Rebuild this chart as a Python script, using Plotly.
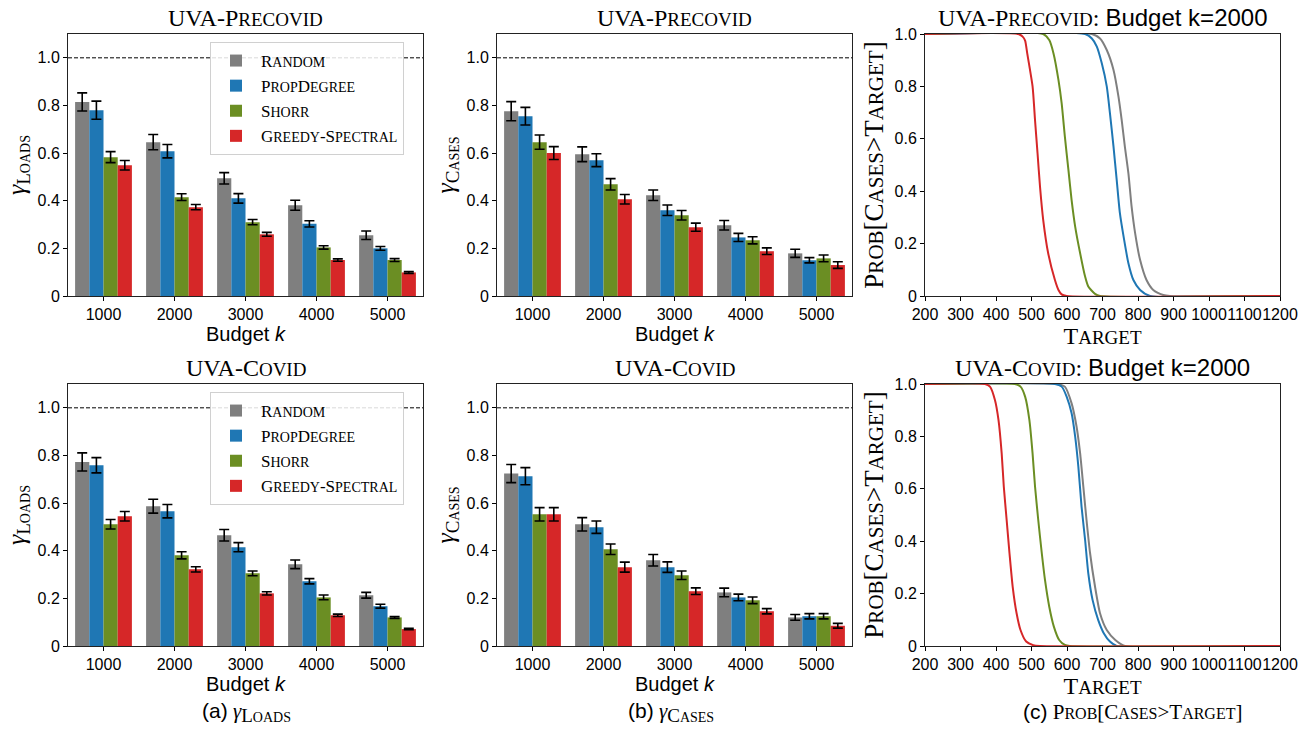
import plotly.graph_objects as go

# ---------------- data ----------------
budgets = ["1000", "2000", "3000", "4000", "5000"]
methods = ["Random", "PropDegree", "Shorr", "Greedy-Spectral"]
colors = ["#7f7f7f", "#1f77b4", "#6b8e23", "#d62728"]

# UVA-Precovid, gamma_Loads
pre_loads_random = [0.815, 0.646, 0.494, 0.381, 0.255]
pre_loads_random_err = [0.038, 0.032, 0.024, 0.021, 0.018]
pre_loads_prop = [0.780, 0.608, 0.410, 0.303, 0.200]
pre_loads_prop_err = [0.038, 0.028, 0.020, 0.013, 0.008]
pre_loads_shorr = [0.583, 0.415, 0.310, 0.204, 0.151]
pre_loads_shorr_err = [0.023, 0.014, 0.011, 0.007, 0.006]
pre_loads_greedy = [0.549, 0.373, 0.259, 0.151, 0.099]
pre_loads_greedy_err = [0.020, 0.011, 0.008, 0.005, 0.004]

# UVA-Precovid, gamma_Cases
pre_cases_random = [0.776, 0.595, 0.423, 0.297, 0.179]
pre_cases_random_err = [0.040, 0.031, 0.022, 0.020, 0.017]
pre_cases_prop = [0.755, 0.570, 0.360, 0.246, 0.150]
pre_cases_prop_err = [0.037, 0.027, 0.022, 0.017, 0.011]
pre_cases_shorr = [0.646, 0.469, 0.339, 0.234, 0.158]
pre_cases_shorr_err = [0.030, 0.024, 0.020, 0.015, 0.014]
pre_cases_greedy = [0.600, 0.406, 0.289, 0.188, 0.130]
pre_cases_greedy_err = [0.027, 0.020, 0.017, 0.014, 0.014]

# UVA-Covid, gamma_Loads
cov_loads_random = [0.773, 0.587, 0.465, 0.343, 0.213]
cov_loads_random_err = [0.038, 0.029, 0.024, 0.018, 0.012]
cov_loads_prop = [0.759, 0.566, 0.415, 0.272, 0.167]
cov_loads_prop_err = [0.032, 0.028, 0.019, 0.011, 0.008]
cov_loads_shorr = [0.511, 0.381, 0.305, 0.204, 0.120]
cov_loads_shorr_err = [0.020, 0.015, 0.010, 0.010, 0.004]
cov_loads_greedy = [0.545, 0.322, 0.221, 0.129, 0.071]
cov_loads_greedy_err = [0.020, 0.011, 0.007, 0.005, 0.003]

# UVA-Covid, gamma_Cases
cov_cases_random = [0.724, 0.511, 0.360, 0.225, 0.120]
cov_cases_random_err = [0.038, 0.028, 0.024, 0.018, 0.012]
cov_cases_prop = [0.713, 0.499, 0.331, 0.204, 0.125]
cov_cases_prop_err = [0.036, 0.026, 0.022, 0.014, 0.011]
cov_cases_shorr = [0.553, 0.406, 0.297, 0.192, 0.125]
cov_cases_shorr_err = [0.028, 0.022, 0.018, 0.014, 0.011]
cov_cases_greedy = [0.553, 0.331, 0.230, 0.146, 0.085]
cov_cases_greedy_err = [0.028, 0.021, 0.014, 0.011, 0.010]

# Prob[Cases > Target], UVA-Precovid, k=2000
pre_random_x = [200, 670, 693, 712, 731, 745, 754, 763, 773, 782, 792, 806, 824, 843, 871, 890, 1200]
pre_random_p = [1, 1, 0.983, 0.939, 0.863, 0.761, 0.672, 0.57, 0.468, 0.341, 0.239, 0.137, 0.061, 0.023, 0.004, 0, 0]
pre_prop_x = [200, 651, 670, 684, 698, 712, 721, 731, 740, 749, 761, 773, 787, 806, 834, 1200]
pre_prop_p = [1, 1, 0.983, 0.952, 0.888, 0.80, 0.697, 0.57, 0.443, 0.316, 0.214, 0.125, 0.061, 0.023, 0, 0]
pre_shorr_x = [200, 533, 550, 562, 576, 585, 594, 604, 613, 623, 637, 651, 660, 679, 693, 1200]
pre_shorr_p = [1, 1, 0.977, 0.926, 0.824, 0.735, 0.608, 0.481, 0.366, 0.265, 0.163, 0.074, 0.036, 0.008, 0, 0]
pre_greedy_x = [200, 463, 475, 482, 488, 503, 510, 517, 524, 533, 547, 566, 576, 585, 599, 1200]
pre_greedy_p = [1, 1, 0.99, 0.975, 0.926, 0.80, 0.67, 0.545, 0.417, 0.29, 0.163, 0.061, 0.023, 0.006, 0, 0]

# Prob[Cases > Target], UVA-Covid, k=2000
cov_random_x = [200, 571, 594, 613, 627, 637, 646, 655, 665, 679, 693, 712, 736, 763, 1200]
cov_random_p = [1, 1, 0.99, 0.926, 0.837, 0.735, 0.608, 0.481, 0.354, 0.226, 0.125, 0.061, 0.023, 0, 0]
cov_prop_x = [200, 566, 585, 599, 613, 623, 632, 641, 651, 660, 672, 688, 704, 721, 740, 1200]
cov_prop_p = [1, 1, 0.99, 0.952, 0.888, 0.799, 0.684, 0.532, 0.405, 0.277, 0.176, 0.099, 0.048, 0.017, 0, 0]
cov_shorr_x = [200, 453, 469, 482, 494, 503, 510, 519, 529, 538, 550, 563, 578, 594, 608, 1200]
cov_shorr_p = [1, 1, 0.99, 0.952, 0.863, 0.735, 0.608, 0.481, 0.354, 0.252, 0.15, 0.074, 0.023, 0.004, 0, 0]
cov_greedy_x = [200, 369, 383, 397, 407, 416, 422, 430, 438, 447, 458, 469, 485, 505, 524, 1200]
cov_greedy_p = [1, 1, 0.99, 0.939, 0.863, 0.735, 0.608, 0.481, 0.354, 0.226, 0.125, 0.061, 0.017, 0.003, 0, 0]

ytick_vals = [0, 0.2, 0.4, 0.6, 0.8, 1.0]
ytick_text = ["0", "0.2", "0.4", "0.6", "0.8", "1.0"]
target_ticks = [200, 300, 400, 500, 600, 700, 800, 900, 1000, 1100, 1200]

# ---------------- styling helpers ----------------
SERIF = "Liberation Serif"
SANS = "Liberation Sans"
W, H = 1316, 754


def sc(text, small):
    """Emulate small caps: lowercase runs become smaller uppercase."""
    out, buf = [], ""
    for ch in text:
        if ch.islower():
            buf += ch.upper()
        else:
            if buf:
                out.append(f"<span style='font-size:{small}px'>{buf}</span>")
                buf = ""
            out.append(ch)
    if buf:
        out.append(f"<span style='font-size:{small}px'>{buf}</span>")
    return "".join(out)


def px_x(a, b):
    return [a / W, b / W]


def px_y(top, bottom):
    return [1 - bottom / H, 1 - top / H]


col_dom = [px_x(68, 423), px_x(497, 852), px_x(925, 1280)]
row_dom = [px_y(34, 296), px_y(384, 646)]

fig = go.Figure()

bar_sets = [
    (1, [pre_loads_random, pre_loads_prop, pre_loads_shorr, pre_loads_greedy],
     [pre_loads_random_err, pre_loads_prop_err, pre_loads_shorr_err, pre_loads_greedy_err], "legend"),
    (2, [pre_cases_random, pre_cases_prop, pre_cases_shorr, pre_cases_greedy],
     [pre_cases_random_err, pre_cases_prop_err, pre_cases_shorr_err, pre_cases_greedy_err], None),
    (4, [cov_loads_random, cov_loads_prop, cov_loads_shorr, cov_loads_greedy],
     [cov_loads_random_err, cov_loads_prop_err, cov_loads_shorr_err, cov_loads_greedy_err], "legend2"),
    (5, [cov_cases_random, cov_cases_prop, cov_cases_shorr, cov_cases_greedy],
     [cov_cases_random_err, cov_cases_prop_err, cov_cases_shorr_err, cov_cases_greedy_err], None),
]

for idx, vals, errs, leg in bar_sets:
    ax = "" if idx == 1 else str(idx)
    for m, v, e, c in zip(methods, vals, errs, colors):
        fig.add_trace(go.Bar(
            x=budgets, y=v, name=sc(m, 14),
            marker=dict(color=c, line=dict(width=0)),
            error_y=dict(type="data", array=e, visible=True, color="black",
                         thickness=1.6, width=5),
            xaxis="x" + ax, yaxis="y" + ax,
            showlegend=leg is not None, legend=leg if leg else "legend",
        ))

cdf_sets = [
    (3, [(pre_random_x, pre_random_p), (pre_prop_x, pre_prop_p),
         (pre_shorr_x, pre_shorr_p), (pre_greedy_x, pre_greedy_p)]),
    (6, [(cov_random_x, cov_random_p), (cov_prop_x, cov_prop_p),
         (cov_shorr_x, cov_shorr_p), (cov_greedy_x, cov_greedy_p)]),
]
for idx, curves in cdf_sets:
    for (xs, ps), c, m in zip(curves, colors, methods):
        fig.add_trace(go.Scatter(
            x=xs, y=ps, mode="lines", name=m, showlegend=False,
            line=dict(color=c, width=2, shape="spline", smoothing=0.6),
            xaxis="x" + str(idx), yaxis="y" + str(idx),
        ))

axis_common = dict(
    showline=True, linecolor="#222222", linewidth=1, mirror=True,
    ticks="outside", ticklen=4, tickcolor="black", tickwidth=1,
    showgrid=False, zeroline=False, automargin=False, tickangle=0,
    tickfont=dict(family=SANS, size=16, color="black"),
)

layout = dict(
    width=W, height=H, margin=dict(l=0, r=0, t=0, b=0, autoexpand=False),
    paper_bgcolor="white", plot_bgcolor="white",
    barmode="group", bargap=0.2, bargroupgap=0,
    font=dict(family=SANS, color="black"),
)


def gamma(word):
    return ("<i>γ</i><sub><span style='font-size:19px'>" + word[0] +
            "</span><span style='font-size:14px'>" + word[1:].upper() + "</span></sub>")


gamma_loads = gamma("Loads")
gamma_cases = gamma("Cases")
prob_caption = sc("Prob", 16) + "[" + sc("Cases", 16) + "&gt;" + sc("Target", 16) + "]"
prob_ytitle = sc("Prob", 21) + "[" + sc("Cases", 21) + "&gt;" + sc("Target", 21) + "]"
budget_title = "Budget <i>k</i>"

panel_info = {
    1: dict(col=0, row=0, kind="bar", ytitle=gamma_loads),
    2: dict(col=1, row=0, kind="bar", ytitle=gamma_cases),
    3: dict(col=2, row=0, kind="cdf", ytitle=prob_ytitle),
    4: dict(col=0, row=1, kind="bar", ytitle=gamma_loads),
    5: dict(col=1, row=1, kind="bar", ytitle=gamma_cases),
    6: dict(col=2, row=1, kind="cdf", ytitle=prob_ytitle),
}

shapes = []
for idx, info in panel_info.items():
    ax = "" if idx == 1 else str(idx)
    xa = dict(axis_common, domain=col_dom[info["col"]], anchor="y" + ax)
    ya = dict(axis_common, domain=row_dom[info["row"]], anchor="x" + ax,
              tickvals=ytick_vals, ticktext=ytick_text)
    if info["kind"] == "bar":
        xa.update(type="category", range=[-0.5, 4.5],
                  title=dict(text=budget_title, standoff=4,
                             font=dict(family=SANS, size=20, color="black")))
        ya.update(range=[0, 1.1],
                  title=dict(text=info["ytitle"], standoff=4,
                             font=dict(family=SERIF, size=26, color="black")))
        shapes.append(dict(type="line", xref=f"x{ax} domain", yref="y" + ax,
                           x0=0, x1=1, y0=1.0, y1=1.0,
                           line=dict(color="black", width=1, dash="4px,2px")))
    else:
        xa.update(range=[200, 1200], tickvals=target_ticks,
                  title=dict(text=sc("Target", 19), standoff=3,
                             font=dict(family=SERIF, size=24, color="black")))
        ya.update(range=[0, 1.0],
                  title=dict(text=info["ytitle"], standoff=3,
                             font=dict(family=SERIF, size=27, color="black")))
    layout["xaxis" + ax] = xa
    layout["yaxis" + ax] = ya

layout["shapes"] = shapes

legend_common = dict(
    xanchor="left", yanchor="top", bgcolor="rgba(255,255,255,0.85)",
    bordercolor="#d0d0d0", borderwidth=1,
    font=dict(family=SERIF, size=17, color="black"),
    tracegroupgap=0, itemwidth=40,
)
layout["legend"] = dict(legend_common, x=210 / W, y=1 - 42 / H)
layout["legend2"] = dict(legend_common, x=210 / W, y=1 - 392 / H)

pre_title = "UVA-" + sc("Precovid", 19)
cov_title = "UVA-" + sc("Covid", 19)
annotations = []
for (col, row, txt) in [
    (0, 0, pre_title), (1, 0, pre_title),
    (2, 0, pre_title + ": <span style='font-family:Liberation Sans'>Budget k=2000</span>"),
    (0, 1, cov_title), (1, 1, cov_title),
    (2, 1, cov_title + ": <span style='font-family:Liberation Sans'>Budget k=2000</span>"),
]:
    annotations.append(dict(
        text=txt, xref="paper", yref="paper",
        x=(col_dom[col][0] + col_dom[col][1]) / 2, y=row_dom[row][1],
        xanchor="center", yanchor="bottom", yshift=1, showarrow=False,
        font=dict(family=SERIF, size=24, color="black"),
    ))

captions = [
    (246, "<span style='font-family:Liberation Sans'>(a)</span> " + gamma_loads),
    (671, "<span style='font-family:Liberation Sans'>(b)</span> " + gamma_cases),
    (1132, "<span style='font-family:Liberation Sans'>(c)</span> " + prob_caption),
]
for xpx, txt in captions:
    annotations.append(dict(
        text=txt, xref="paper", yref="paper", x=xpx / W, y=1 - 712 / H,
        xanchor="center", yanchor="middle", showarrow=False,
        font=dict(family=SERIF, size=21, color="black"),
    ))
layout["annotations"] = annotations

fig.update_layout(**layout)
fig.write_html("out.html")
